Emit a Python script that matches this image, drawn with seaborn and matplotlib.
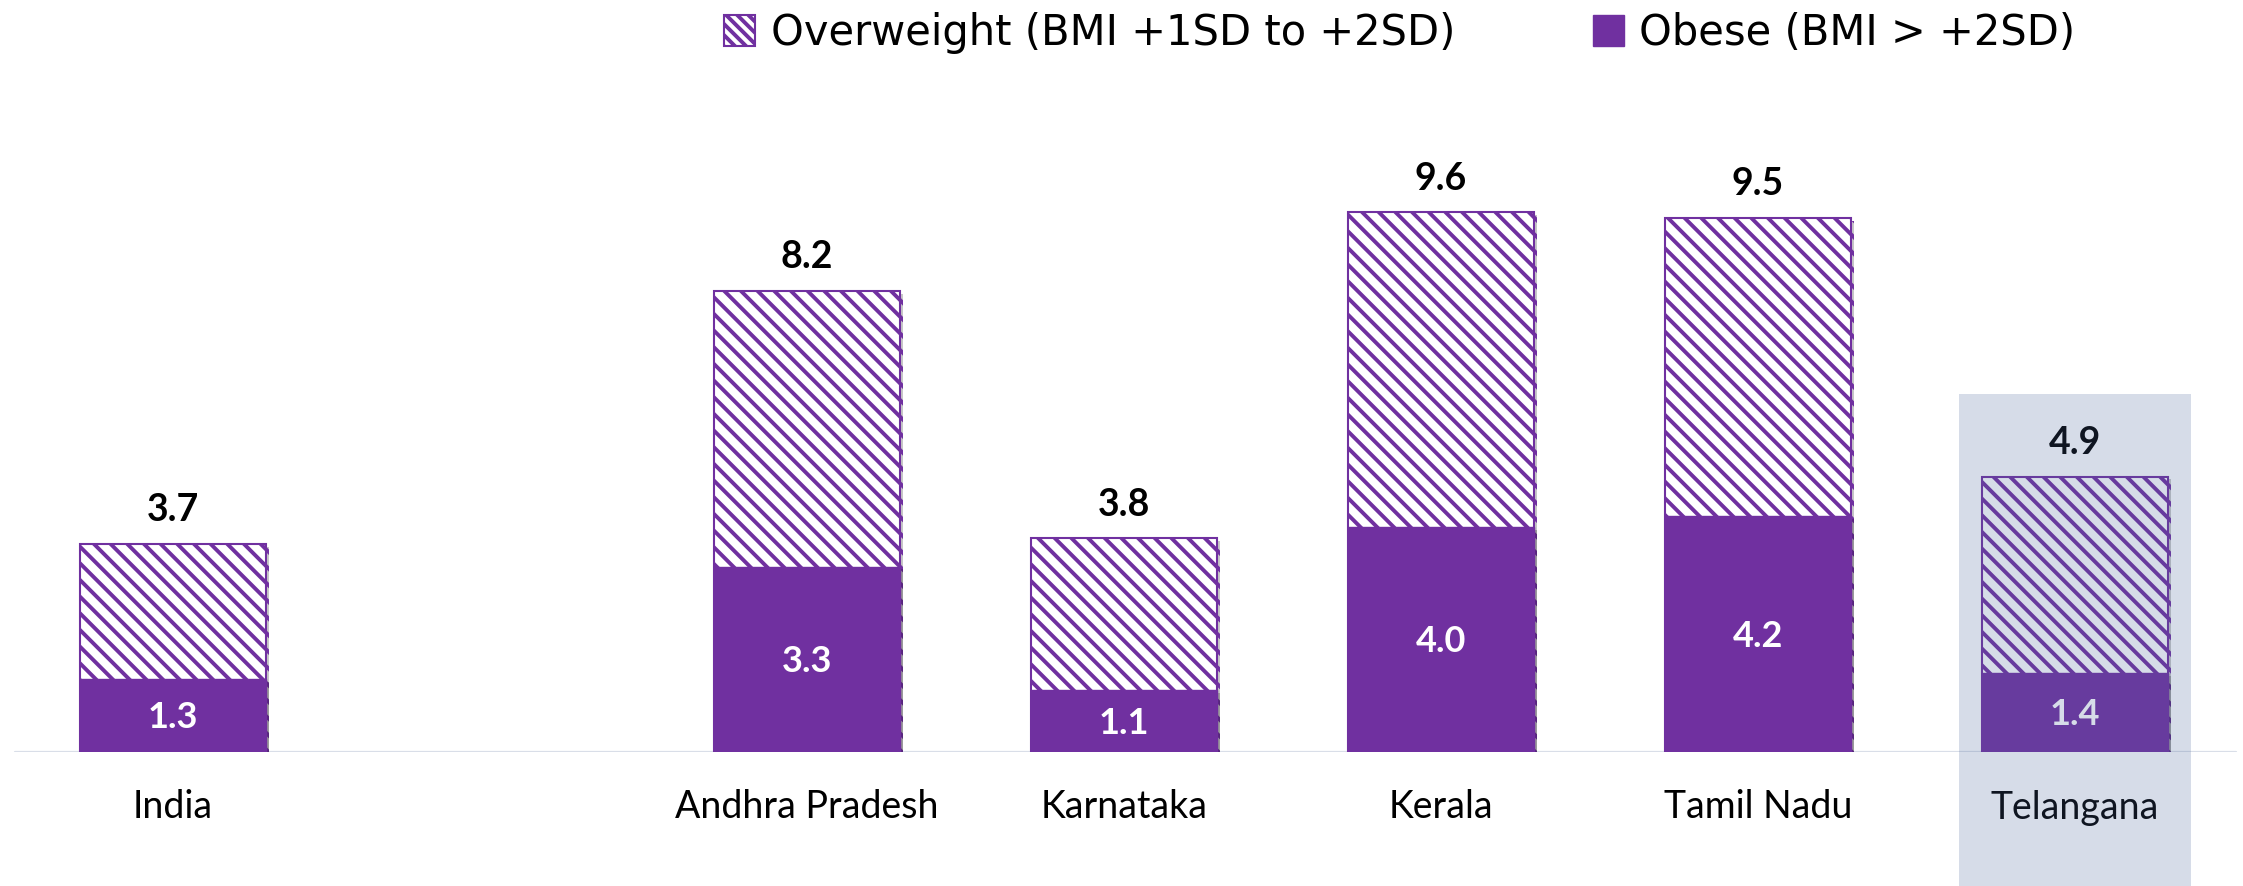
import matplotlib
matplotlib.use('Agg')
import matplotlib.pyplot as plt
import seaborn as sns
import pandas as pd
from matplotlib.patches import Patch, Rectangle
import matplotlib.patheffects as pe

regions = ["India", "Andhra Pradesh", "Karnataka", "Kerala", "Tamil Nadu", "Telangana"]
total_values = [3.7, 8.2, 3.8, 9.6, 9.5, 4.9]
obese_values = [1.3, 3.3, 1.1, 4.0, 4.2, 1.4]
legend_labels = ["Overweight (BMI +1SD to +2SD)", "Obese (BMI > +2SD)"]
highlight_region = "Telangana"

sns.set_style('white')
plt.rcParams['font.family'] = ['Lato', 'DejaVu Sans']
plt.rcParams['hatch.linewidth'] = 2.8
plt.rcParams['text.color'] = 'black'
plt.rcParams['xtick.color'] = 'black'

PURPLE = '#7030A0'
W, H, DPI = 2243, 886, 100
base_px = 752      # baseline y (from top)
unit_px = 56.2     # pixels per data unit
x0_px, step_px = 173, 317

fig = plt.figure(figsize=(W / DPI, H / DPI), dpi=DPI)
ax = fig.add_axes([0, (H - base_px) / H, 1, base_px / H])

positions = [0] + [i + 2 for i in range(len(regions) - 1)]
df = pd.DataFrame({"region": regions, "pos": positions,
                   "total": total_values, "obese": obese_values})

shadow = [pe.SimplePatchShadow(offset=(2, -2), shadow_rgbFace='#000000', alpha=0.22), pe.Normal()]

sns.barplot(data=df, x="pos", y="total", native_scale=True, width=0.587,
            color="white", saturation=1, edgecolor=PURPLE, linewidth=1.5,
            hatch='\\\\', errorbar=None, ax=ax)
sns.barplot(data=df, x="pos", y="obese", native_scale=True, width=0.587,
            color=PURPLE, saturation=1, edgecolor=PURPLE, linewidth=1,
            errorbar=None, ax=ax)
for p in ax.patches:
    p.set_path_effects(shadow)

ax.set_xlim((0 - x0_px) / step_px, (W - x0_px) / step_px)
ax.set_ylim(0, base_px / unit_px)
ax.set_xticks(positions, regions)
ax.set_yticks([])
ax.set_xlabel('')
ax.set_ylabel('')
ax.tick_params(axis='x', length=0, pad=27, labelsize=27, colors='black')
sns.despine(ax=ax, left=True, bottom=True)
ax.axhline(0, xmin=15 / W, xmax=2236 / W, color='#d9dee8', lw=1.6, zorder=0.5)

for p, t, o in zip(positions, total_values, obese_values):
    ax.annotate(f"{t:.1f}", (p, t), xytext=(0, 16.5), textcoords='offset points',
                ha='center', va='baseline', fontsize=27, fontweight='bold', color='black')
    ax.annotate(f"{o:.1f}", (p, o / 2), xytext=(0, -9.2), textcoords='offset points',
                ha='center', va='baseline', fontsize=26, fontweight='bold', color='white')

hi = positions[regions.index(highlight_region)]
bottom = -(H - base_px) / unit_px
top = (base_px - 394) / unit_px
ax.add_patch(Rectangle((hi - 0.735 / 2, bottom), 0.735, top - bottom,
                       facecolor=(72 / 255, 99 / 255, 152 / 255), alpha=0.22,
                       edgecolor='none', clip_on=False, zorder=10))

handles = [Patch(facecolor='white', edgecolor=PURPLE, hatch='\\\\\\', lw=1.5),
           Patch(facecolor=PURPLE, edgecolor=PURPLE)]
fig.legend(handles, legend_labels, loc='center left', bbox_to_anchor=(724 / W, 1 - 33 / H),
           ncol=2, frameon=False, prop={'family': 'DejaVu Sans', 'size': 30},
           handlelength=0.75, handleheight=0.75,
           handletextpad=0.37, columnspacing=3.3, borderpad=0, borderaxespad=0)

fig.savefig('out.png', dpi=DPI)
